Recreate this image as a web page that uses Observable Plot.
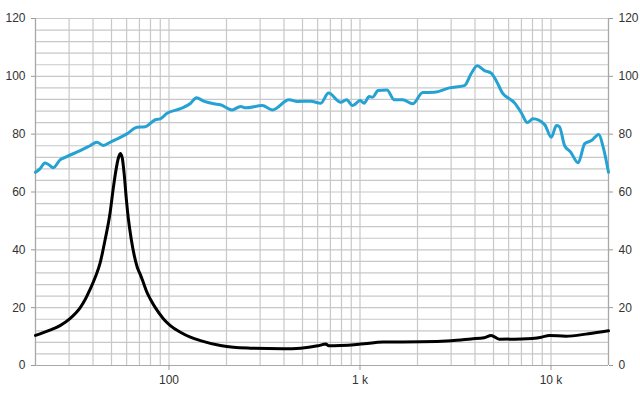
<!DOCTYPE html>
<html>
<head>
<meta charset="utf-8">
<script src="https://cdn.jsdelivr.net/npm/d3@7"></script>
<script src="https://cdn.jsdelivr.net/npm/@observablehq/plot@0.6"></script>
<style>
  html, body { margin: 0; padding: 0; background: #fff; }
  #chart { width: 640px; height: 400px; }
</style>
</head>
<body>
<div id="chart"></div>
<script>
// SPL curve (blue), frequency in Hz and level in dB
const splFreq = [20,21.1,22.4,23.3,24.8,26.9,28.6,34.3,38.6,41.9,45.4,49.2,60.2,68.0,75.1,84.8,90.1,97.7,114.7,129.4,139.2,152,171.6,186,214,237,251.7,308,348,425,470,552,623,684,793,850,914,1002,1051,1117,1164,1245,1384,1511,1673,1887,2130,2450,2937,3522,3818,4106,4484,4862,5166,5602,6068,6446,6988,7512,8048,9262,10040,10670,11060,11790,12680,13870,15020,16280,17790,18760,20000];
const splDb   = [66.8,68,70,69.6,68.4,71.1,72,74.3,76,77.2,76.1,77.2,80.1,82.4,82.6,85,85.3,87.2,88.8,90.6,92.6,91.4,90.5,90.2,88.4,89.6,89.1,89.9,88.4,91.9,91.3,91.4,90.7,94.2,91,91.9,89.9,91.6,90.7,93,92.8,95.1,95.3,91.9,91.9,90.5,94.4,94.5,96,96.8,100.9,103.7,102,101.1,98.5,94,92.2,90.8,87.4,84,85.3,83.3,78.9,83,82.6,76,73.8,70.1,76.7,77.8,79.9,75.5,66.8];

// Impedance curve (black), frequency in Hz and ohms
const impFreq = [20,23.8,26.9,30.3,34.3,36.4,38.6,41.1,43.6,46.3,49.2,51.0,52.9,54.2,55.6,56.9,58.3,59.7,61.2,63.5,65.8,68.2,70.7,73.3,77.0,79.8,84.8,93.4,101.6,114.7,129.4,146.1,186,217.6,267,396,489,601,662,686,1010,1326,2087,2998,3818,4469,4862,5358,6988,8900,9800,11966,15704,20000];
const impOhm  = [10.4,12.2,13.8,16.2,20.0,22.8,26.3,30.5,35.5,43.5,53,61,68,71.5,73.3,71.8,66,58,51,43.5,38,34,31.5,28.8,25,23,20,16.2,13.8,11.5,9.8,8.6,6.9,6.3,6.0,5.8,6.0,6.8,7.4,6.8,7.4,8.1,8.2,8.6,9.2,9.6,10.4,9.1,9.2,9.8,10.4,10.1,11.0,12.0];

// Axes / grid
const yTicks = [0,20,40,60,80,100,120];
const yGrid = d3.range(0, 121, 4);
const xGrid = [20,30,40,50,60,70,80,90,100,200,300,400,500,600,700,800,900,1000,2000,3000,4000,5000,6000,7000,8000,9000,10000,20000];
const xTicks = [100, 1000, 10000];
const xTickLabels = ["100", "1 k", "10 k"];

const spl = splFreq.map((f, i) => ({f, v: splDb[i]}));
const imp = impFreq.map((f, i) => ({f, v: impOhm[i]}));

const chart = Plot.plot({
  width: 640,
  height: 400,
  marginLeft: 35,
  marginRight: 32,
  marginTop: 18,
  marginBottom: 35,
  x: {type: "log", domain: [20, 20000]},
  y: {domain: [0, 120]},
  style: {fontFamily: "'Liberation Sans', Arial, sans-serif", fontSize: "12px", color: "#333", background: "#fff"},
  marks: [
    Plot.ruleX(xGrid, {stroke: "#c8c8c8", strokeWidth: 1.2}),
    Plot.ruleY(yGrid, {stroke: "#c8c8c8", strokeWidth: 1.2}),
    Plot.ruleX([20, 20000], {stroke: "#a8a8a8", strokeWidth: 1.2}),
    Plot.ruleY([0], {stroke: "#a8a8a8", strokeWidth: 1.2}),
    Plot.axisY(yTicks, {anchor: "left", tickSize: 4, tickPadding: 6, stroke: "#999", fill: "#333", label: null}),
    Plot.axisY(yTicks, {anchor: "right", tickSize: 4, tickPadding: 6, stroke: "#999", fill: "#333", label: null}),
    Plot.axisX(xTicks, {anchor: "bottom", tickSize: 5, tickPadding: 5, stroke: "#999", fill: "#333", label: null,
      tickFormat: d => xTickLabels[xTicks.indexOf(d)]}),
    Plot.line(spl, {x: "f", y: "v", stroke: "#25a2d4", strokeWidth: 3, curve: "monotone-x"}),
    Plot.line(imp, {x: "f", y: "v", stroke: "#000", strokeWidth: 3, curve: "monotone-x"})
  ]
});
document.getElementById("chart").appendChild(chart);
</script>
</body>
</html>
